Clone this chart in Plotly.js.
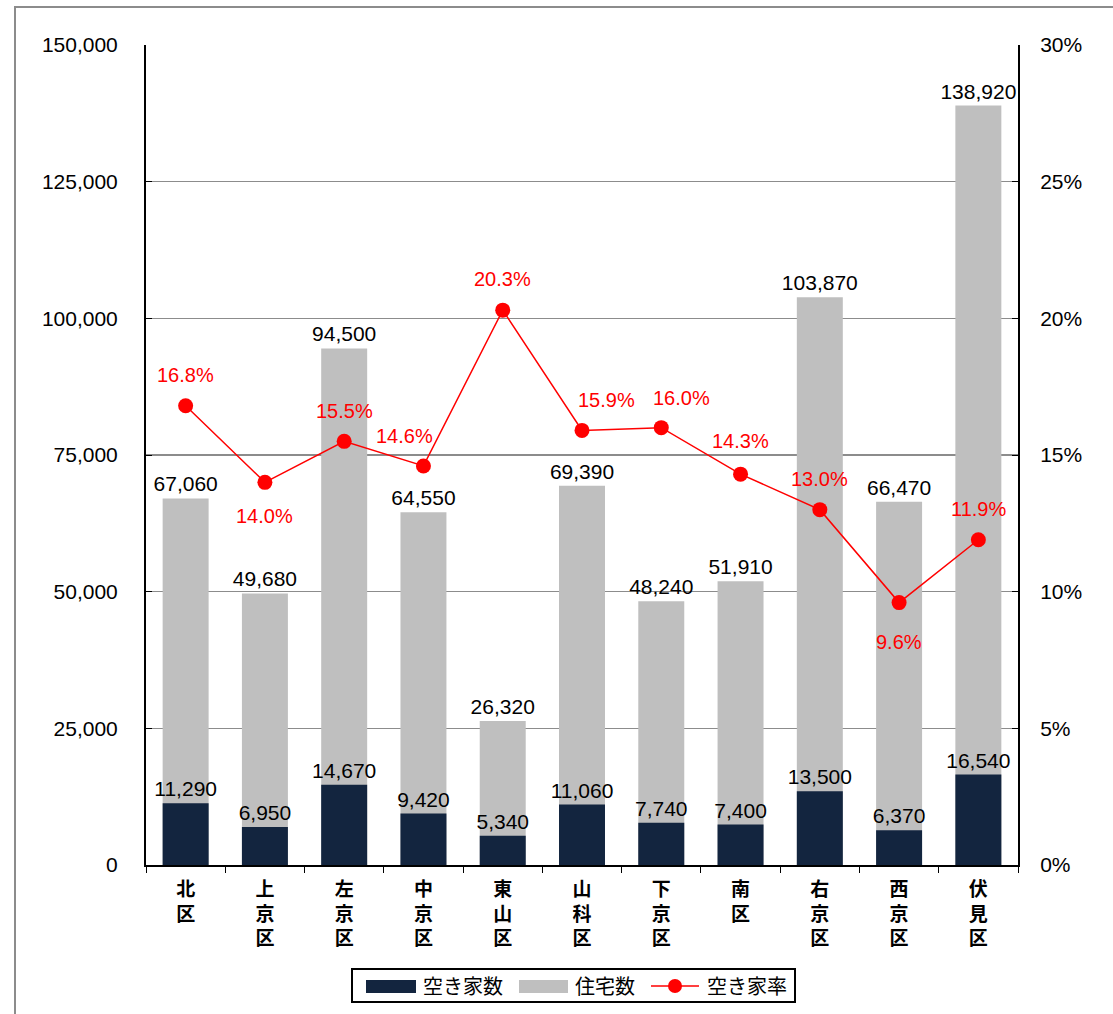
<!DOCTYPE html>
<html><head><meta charset="utf-8">
<script src="https://cdn.plot.ly/plotly-3.0.1.min.js"></script>
<style>
html,body{margin:0;padding:0;background:#fff;}
#frame{position:absolute;left:14px;top:6px;width:1200px;height:1100px;border:2px solid #8c8c8c;box-sizing:border-box;}
#chart{position:absolute;left:0;top:0;width:1113px;height:1014px;}
</style></head>
<body>
<div id="frame"></div>
<div id="chart"></div>
<script>
const wards = ['北区','上京区','左京区','中京区','東山区','山科区','下京区','南区','右京区','西京区','伏見区'];
const housing = [67060, 49680, 94500, 64550, 26320, 69390, 48240, 51910, 103870, 66470, 138920];
const vacant = [11290, 6950, 14670, 9420, 5340, 11060, 7740, 7400, 13500, 6370, 16540];
const vacancyRate = [0.168, 0.140, 0.155, 0.146, 0.203, 0.159, 0.160, 0.143, 0.130, 0.096, 0.119];
const seriesNames = ['空き家数', '住宅数', '空き家率'];
// label offsets for the rate labels (pixels)
const rateLabelDx = [0, 0, 0, -19, 0, 24, 20, 0, 0, 0, 0];
const rateLabelDy = [31, -34, 30, 30, 31, 30, 30, 33, 31, -39, 31];

const catLabels = wards.map(w => w.split('').join('<br>'));
const fmt = v => v.toLocaleString('en-US');
const font = 'Liberation Sans, Arial, sans-serif';
const jp = 'Noto Sans CJK JP, sans-serif';
const DARK = '#13253f', GRAY = '#bfbfbf', RED = '#ff0000';

const W = 1113, H = 1014, ML = 146, MR = 95, MT = 45, MB = 149;
const PW = W - ML - MR, PH = H - MT - MB;
const px = x => (x - ML) / PW;
const py = y => (H - MB - y) / PH;

const traces = [
  {type:'bar', name:seriesNames[1], x:catLabels, y:housing, marker:{color:GRAY},
   text:housing.map(fmt), textposition:'outside', constraintext:'none', textfont:{size:21,color:'#000',family:font},
   cliponaxis:false, width:0.58, hoverinfo:'none'},
  {type:'bar', name:seriesNames[0], x:catLabels, y:vacant, marker:{color:DARK},
   text:vacant.map(fmt), textposition:'outside', constraintext:'none', textfont:{size:21,color:'#000',family:font},
   cliponaxis:false, width:0.58, hoverinfo:'none'},
  {type:'scatter', mode:'lines+markers', name:seriesNames[2], x:catLabels, y:vacancyRate, yaxis:'y2',
   line:{color:RED,width:1.5}, marker:{color:RED,size:15}, cliponaxis:false, hoverinfo:'none'}
];

const annotations = vacancyRate.map((r,i)=>({
  x:catLabels[i], y:r, xref:'x', yref:'y2', text:(r*100).toFixed(1)+'%', showarrow:false,
  xshift:rateLabelDx[i], yshift:rateLabelDy[i], font:{size:20,color:RED,family:font}
}));

// manual legend (box, swatches, texts)
const legY = 986;
const shapes = [
  {type:'rect', xref:'paper', yref:'paper', x0:px(352), x1:px(795), y0:py(1002), y1:py(969),
   line:{color:'#000', width:2}, fillcolor:'#fff', layer:'above'},
  {type:'rect', xref:'paper', yref:'paper', x0:px(366), x1:px(416), y0:py(993), y1:py(980),
   line:{width:0}, fillcolor:DARK, layer:'above'},
  {type:'rect', xref:'paper', yref:'paper', x0:px(519), x1:px(568), y0:py(993), y1:py(980),
   line:{width:0}, fillcolor:GRAY, layer:'above'},
  {type:'line', xref:'paper', yref:'paper', x0:px(651), x1:px(699), y0:py(legY), y1:py(legY),
   line:{color:RED, width:1.5}, layer:'above'},
  {type:'circle', xref:'paper', yref:'paper', x0:px(668), x1:px(682), y0:py(legY+7), y1:py(legY-7),
   line:{width:0}, fillcolor:RED, layer:'above'}
];
[[421,0],[573,1],[705,2]].forEach(([x,i])=>{
  annotations.push({xref:'paper', yref:'paper', x:px(x), y:py(legY), xanchor:'left', yanchor:'middle',
    text:seriesNames[i], showarrow:false, font:{family:jp, size:20, color:'#000'}});
});

const layout = {
  width:W, height:H,
  margin:{l:ML, r:MR, t:MT, b:MB},
  paper_bgcolor:'rgba(0,0,0,0)', plot_bgcolor:'rgba(0,0,0,0)',
  barmode:'overlay',
  font:{family:font, size:21, color:'#000'},
  showlegend:false,
  xaxis:{type:'category', showline:true, linecolor:'#000', linewidth:2, ticks:'outside', tickson:'boundaries',
    ticklen:6, tickcolor:'#000', tickfont:{family:jp, size:19, color:'#000', weight:'bold'},
    showgrid:false, zeroline:false, range:[-0.5,10.5], automargin:false, ticklabelstandoff:6},
  yaxis:{range:[0,150000], tickvals:[0,25000,50000,75000,100000,125000,150000], tickformat:',d',
    showline:true, linecolor:'#000', linewidth:2, ticks:'inside', ticklen:6, tickcolor:'#000',
    showgrid:true, gridcolor:'#8c8c8c', gridwidth:1.5, zeroline:false, ticklabelstandoff:22,
    tickfont:{size:21,family:font}, automargin:false},
  yaxis2:{range:[0,0.30], tickvals:[0,0.05,0.10,0.15,0.20,0.25,0.30], tickformat:'.0%', overlaying:'y', side:'right',
    showline:true, linecolor:'#000', linewidth:2, ticks:'inside', ticklen:6, tickcolor:'#000',
    showgrid:false, zeroline:false, ticklabelstandoff:16, tickfont:{size:21,family:font}, automargin:false},
  annotations:annotations,
  shapes:shapes
};
Plotly.newPlot('chart', traces, layout, {displayModeBar:false, staticPlot:true});
</script>
</body></html>
